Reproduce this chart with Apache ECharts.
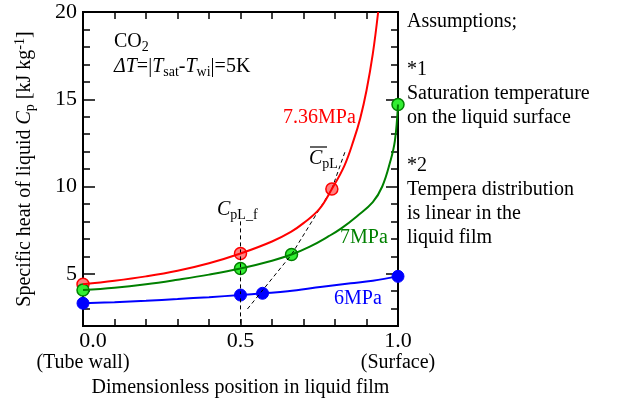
<!DOCTYPE html>
<html>
<head>
    <meta charset="utf-8" />
    <title></title>
    <script src="https://cdn.jsdelivr.net/npm/echarts@6/dist/echarts.min.js"></script>
    <style>
        html, body { margin: 0; padding: 0; background: #fff; }
        #main { width: 634px; height: 403px; }
    </style>
</head>
<body>
    <div id="main"></div>

    <script>
        var FONT = '"Liberation Serif", "Times New Roman", serif';

        // 7.36MPa curve
        var posRed = [0, 0.1, 0.2, 0.3, 0.4, 0.5, 0.6, 0.66, 0.7, 0.75, 0.79, 0.83, 0.86, 0.88, 0.9, 0.92, 0.937];
        var cpRed = [4.40, 4.6, 4.85, 5.17, 5.6, 6.16, 6.85, 7.4, 7.9, 8.7, 9.86, 11.2, 12.7, 13.9, 15.5, 17.6, 20.0];
        // 7MPa curve
        var posGreen = [0, 0.1, 0.2, 0.3, 0.4, 0.5, 0.6, 0.662, 0.72, 0.78, 0.82, 0.87, 0.92, 0.95, 0.975, 0.99, 1.0];
        var cpGreen = [4.07, 4.2, 4.4, 4.66, 4.95, 5.30, 5.75, 6.1, 6.55, 7.15, 7.6, 8.3, 9.1, 10.0, 11.4, 12.6, 14.7];
        // 6MPa curve
        var posBlue = [0, 0.1, 0.2, 0.3, 0.4, 0.5, 0.57, 0.65, 0.76, 0.85, 0.92, 1.0];
        var cpBlue = [3.31, 3.37, 3.45, 3.55, 3.66, 3.78, 3.88, 4.0, 4.26, 4.45, 4.6, 4.85];

        // marked points
        var markRedX = [0, 0.5, 0.79], markRedY = [4.40, 6.16, 9.86];
        var markGreenX = [0, 0.5, 0.662, 1.0], markGreenY = [4.07, 5.30, 6.1, 14.7];
        var markBlueX = [0, 0.5, 0.57, 1.0], markBlueY = [3.31, 3.78, 3.88, 4.85];

        // dashed guides
        var guideFX = [0.5, 0.5], guideFY = [8.0, 2.0];
        var guideMX = [0.522, 0.662, 0.79, 0.832], guideMY = [2.98, 6.1, 9.86, 12.0];

        // ticks
        var xTicks = [0, 0.1, 0.2, 0.3, 0.4, 0.5, 0.6, 0.7, 0.8, 0.9, 1.0];
        var yMinor = [2, 3, 4, 5, 6, 7, 8, 9, 10, 11, 12, 13, 14, 15, 16, 17, 18, 19, 20];
        var yMajor = [5, 10, 15, 20];

        function pairs(xs, ys) {
            return xs.map(function (x, i) { return [x, ys[i]]; });
        }
        function near(v, t) { return Math.abs(v - t) < 1e-6; }

        var myChart = echarts.init(document.getElementById('main'));

        function tickAxis(pos, min, max, ticks, len, showLine) {
            return {
                type: 'value', min: min, max: max, position: pos,
                splitLine: { show: false },
                axisLabel: { show: false },
                axisLine: { show: showLine, onZero: false, lineStyle: { color: '#000', width: 2 } },
                axisTick: { show: true, inside: true, length: len, customValues: ticks, lineStyle: { color: '#000', width: 1.5 } }
            };
        }

        var subStyle = { fontFamily: FONT, fontSize: 14, fontWeight: 'normal', verticalAlign: 'bottom', lineHeight: 15 };
        var itStyle = { fontFamily: FONT, fontSize: 20, fontWeight: 'normal', fontStyle: 'italic' };

        function note(left, top, text, color, extraRich) {
            var rich = { i: itStyle, sub: subStyle };
            if (extraRich) for (var k in extraRich) rich[k] = extraRich[k];
            return {
                left: left, top: top, padding: 0, text: text,
                textStyle: {
                    color: color, fontFamily: FONT, fontSize: 20, fontWeight: 'normal', lineHeight: 24,
                    rich: rich
                }
            };
        }

        var xMain = tickAxis('bottom', 0, 1, xTicks, 7, true);
        xMain.interval = 0.1;
        xMain.name = 'Dimensionless position in liquid film';
        xMain.nameLocation = 'middle';
        xMain.nameGap = 46;
        xMain.nameTextStyle = { fontFamily: FONT, fontSize: 20, color: '#000' };
        xMain.axisLabel = {
            show: true, margin: 3, color: '#000', fontFamily: FONT,
            formatter: function (v) {
                if (near(v, 0)) return '{a|0.0}\n{b|(Tube wall)}';
                if (near(v, 0.5)) return '{c|0.5}';
                if (near(v, 1)) return '{c|1.0}\n{b|(Surface)}';
                return '';
            },
            rich: {
                a: { fontFamily: FONT, fontSize: 22, lineHeight: 24, padding: [0, 0, 0, 20] },
                c: { fontFamily: FONT, fontSize: 22, lineHeight: 24 },
                b: { fontFamily: FONT, fontSize: 20, lineHeight: 20 }
            }
        };

        var yMain = tickAxis('left', 2, 20, yMinor, 7, true);
        yMain.interval = 1;
        yMain.name = 'Specific heat of liquid {i|C}{sub|p} [kJ kg{sup|-1}]';
        yMain.nameLocation = 'middle';
        yMain.nameGap = 46;
        yMain.nameTextStyle = {
            fontFamily: FONT, fontSize: 20, color: '#000', lineHeight: 24,
            rich: {
                i: itStyle,
                sub: subStyle,
                sup: { fontFamily: FONT, fontSize: 14, verticalAlign: 'top', lineHeight: 15 }
            }
        };
        yMain.axisLabel = {
            show: true, margin: 6, color: '#000', fontFamily: FONT, fontSize: 22,
            formatter: function (v) { return (v % 5 === 0) ? String(v) : ''; }
        };

        var option = {
            animation: false,
            grid: { left: 83, right: 236, top: 12, bottom: 75, show: true, borderColor: '#000', borderWidth: 2, backgroundColor: 'transparent' },
            title: [
                note(114, 30, 'CO{sub|2}', '#000'),
                note(114, 55, '{i|ΔT}=|{i|T}{sub|sat}-{i|T}{sub|wi}|=5K', '#000'),
                note(283, 106, '7.36MPa', '#ff0000'),
                note(309, 147, '{i|C}{sub|pL}', '#000'),
                note(310, 146, '{o|}', '#000', { o: { width: 17, height: 1.2, backgroundColor: '#000', lineHeight: 2 } }),
                note(217, 198, '{i|C}{sub|pL_f}', '#000'),
                note(340, 226, '7MPa', '#008000'),
                note(334, 287, '6MPa', '#0000ff'),
                note(407, 10, 'Assumptions;\n\n*1\nSaturation temperature\non the liquid surface\n\n*2\nTempera distribution\nis linear in the\nliquid film', '#000')
            ],
            xAxis: [
                xMain,
                tickAxis('top', 0, 1, xTicks, 7, true)
            ],
            yAxis: [
                yMain,
                tickAxis('right', 2, 20, yMinor, 7, true),
                tickAxis('left', 2, 20, yMajor, 12, false),
                tickAxis('right', 2, 20, yMajor, 12, false)
            ],
            series: [
                {
                    type: 'line', data: pairs(guideFX, guideFY), symbol: 'none',
                    lineStyle: { color: '#000', width: 1, type: [4, 3] }
                },
                {
                    type: 'line', data: pairs(guideMX, guideMY), symbol: 'none',
                    lineStyle: { color: '#000', width: 1, type: [4, 3] }
                },
                {
                    type: 'line', data: pairs(posRed, cpRed), symbol: 'none', smooth: 0.4,
                    lineStyle: { color: '#ff0000', width: 2 }
                },
                {
                    type: 'line', data: pairs(posGreen, cpGreen), symbol: 'none', smooth: 0.4,
                    lineStyle: { color: '#008000', width: 2 }
                },
                {
                    type: 'line', data: pairs(posBlue, cpBlue), symbol: 'none', smooth: 0.4,
                    lineStyle: { color: '#0000ff', width: 2 }
                },
                {
                    type: 'scatter', data: pairs(markRedX, markRedY), symbolSize: 12,
                    itemStyle: { color: '#ff8080', borderColor: '#ff0000', borderWidth: 1.5, opacity: 1 }
                },
                {
                    type: 'scatter', data: pairs(markGreenX, markGreenY), symbolSize: 12,
                    itemStyle: { color: '#33ee33', borderColor: '#008000', borderWidth: 1.5, opacity: 1 }
                },
                {
                    type: 'scatter', data: pairs(markBlueX, markBlueY), symbolSize: 12,
                    itemStyle: { color: '#0000ff', borderColor: '#0000ff', borderWidth: 1, opacity: 1 }
                }
            ]
        };

        myChart.setOption(option);
    </script>
</body>
</html>
